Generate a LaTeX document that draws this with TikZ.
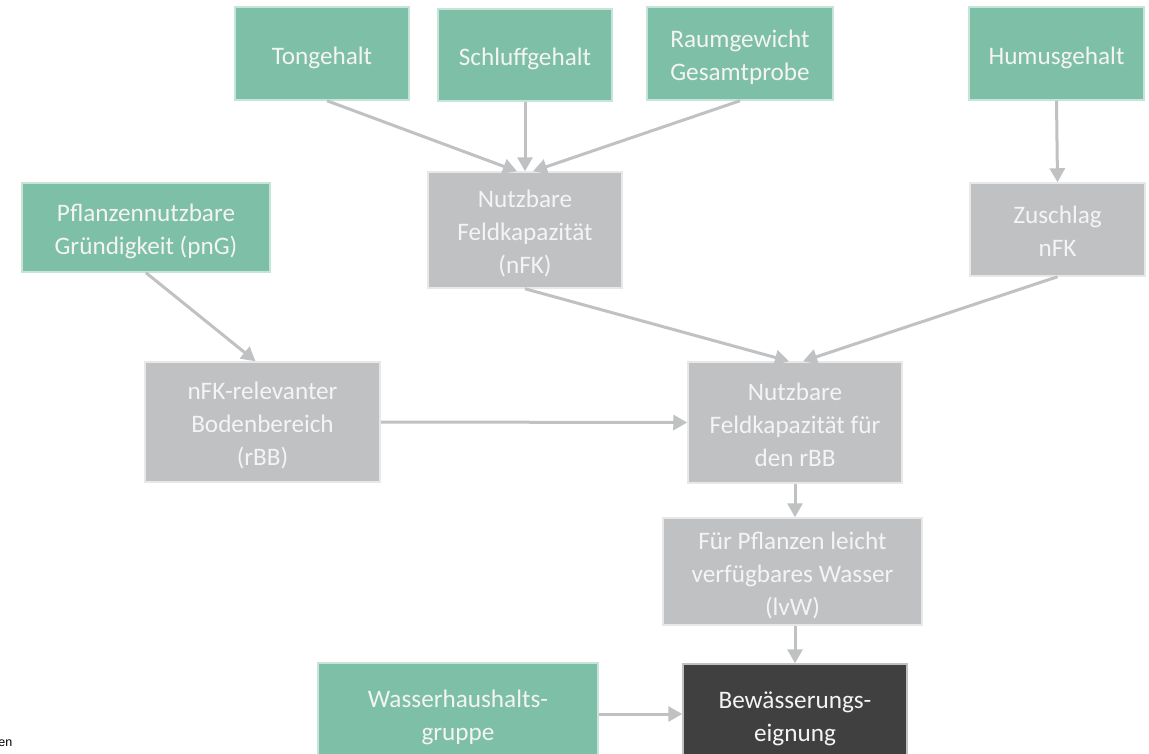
\documentclass[tikz,border=0pt]{standalone}
\usepackage{fontspec}
\setmainfont{Carlito}
\newfontfamily\notefont{Liberation Sans}
\usetikzlibrary{arrows.meta,calc}

\definecolor{boxgreen}{HTML}{7DBFA7}
\definecolor{edgegreen}{HTML}{C6E4D8}
\definecolor{boxgrey}{HTML}{C0C1C3}
\definecolor{edgegrey}{HTML}{E8E8E8}
\definecolor{boxdark}{HTML}{404040}
\definecolor{arrowgrey}{HTML}{C0C1C3}
\definecolor{labelwhite}{HTML}{F4F4F4}

% centred block of lines, set slightly below the box centre
\newcommand\boxlines[1]{\raisebox{-4pt}[\height][\depth]{\begin{tabular}{@{}c@{}}#1\end{tabular}}}

\tikzset{
  basebox/.style={rectangle, inner sep=0pt, line width=1.5pt,
    text=labelwhite, font=\fontsize{25.2}{33}\selectfont},
  inputbox/.style={basebox, fill=boxgreen, draw=edgegreen},
  calcbox/.style={basebox, fill=boxgrey, draw=edgegrey},
  resultbox/.style={basebox, fill=boxdark, draw=boxgrey},
  arr/.style={draw=arrowgrey, line width=3pt,
    -{Triangle[length=14pt,width=15pt]}},
}

\begin{document}
\begin{tikzpicture}[x=1pt,y=-1pt]
\clip (0,0) rectangle (1149,753);
\fill[white] (0,0) rectangle (1149,753);

% input parameters (top row)
\node[inputbox, minimum width=174pt, minimum height=93pt] (ton) at (322,53.5) {\boxlines{Tongehalt}};
\node[inputbox, minimum width=174pt, minimum height=92pt] (schluff) at (525,55) {\boxlines{Schluffgehalt}};
\node[inputbox, minimum width=186pt, minimum height=93pt] (raum) at (740,53.5) {\boxlines{Raumgewicht\\Gesamtprobe}};
\node[inputbox, minimum width=175pt, minimum height=93pt] (humus) at (1056.5,53.5) {\boxlines{Humusgehalt}};

% second row
\node[inputbox, minimum width=248pt, minimum height=89pt] (png) at (146,227.5) {\boxlines{Pflanzennutzbare\\Gründigkeit (pnG)}};
\node[calcbox, minimum width=194pt, minimum height=116pt] (nfk) at (525,230) {\boxlines{Nutzbare\\Feldkapazität\\(nFK)}};
\node[calcbox, minimum width=175pt, minimum height=93pt] (zuschlag) at (1057.5,229.5) {\boxlines{Zuschlag\\nFK}};

% third row
\node[calcbox, minimum width=235pt, minimum height=120pt] (rbb) at (262.5,422) {\boxlines{nFK-relevanter\\Bodenbereich\\(rBB)}};
\node[calcbox, minimum width=214pt, minimum height=121pt] (nfkrbb) at (795,422.5) {\boxlines{Nutzbare\\Feldkapazität für\\den rBB}};

% lower part
\node[calcbox, minimum width=259pt, minimum height=107pt] (lvw) at (792.5,571.5) {\boxlines{Für Pflanzen leicht\\verfügbares Wasser\\(lvW)}};
\node[inputbox, minimum width=280pt, minimum height=100pt] (whg) at (458,713) {\boxlines{Wasserhaushalts-\\gruppe}};
\node[resultbox, minimum width=224pt, minimum height=100pt] (bew) at (795,714) {\boxlines{Bewässerungs-\\eignung}};

% side note
\node[anchor=base east, inner sep=0pt, font=\notefont\fontsize{12.5}{15}\selectfont] (note) at (12.5,746) {en};

% connectors
\draw[arr] ($(ton.south)+(5,0)$) -- ($(nfk.north)+(-8,0)$);
\draw[arr] (schluff.south) -- (nfk.north);
\draw[arr] (raum.south) -- ($(nfk.north)+(8,0)$);
\draw[arr] (humus.south) -- (zuschlag.north);
\draw[arr] (png.south) -- ($(rbb.north)+(-7,0)$);
\draw[arr] (nfk.south) -- ($(nfkrbb.north)+(-6,0)$);
\draw[arr] (zuschlag.south) -- ($(nfkrbb.north)+(8,0)$);
\draw[arr] (rbb.east) -- (nfkrbb.west);
\draw[arr] (nfkrbb.south) -- (lvw.north -| nfkrbb.south);
\draw[arr] (lvw.south -| nfkrbb.south) -- (bew.north -| nfkrbb.south);
\draw[arr] (whg.east |- bew.west) -- (bew.west);
\end{tikzpicture}
\end{document}
